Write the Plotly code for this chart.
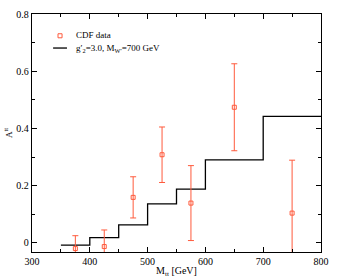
import plotly.graph_objects as go

# CDF data
cdf_x = [375, 425, 475, 525, 575, 650, 750]
cdf_y = [-0.020, -0.013, 0.159, 0.308, 0.139, 0.474, 0.104]
cdf_err = [0.045, 0.058, 0.072, 0.097, 0.131, 0.152, 0.185]

# model step histogram (bin edges and values)
bin_edges = [350, 400, 450, 500, 550, 600, 700, 800]
bin_vals = [-0.008, 0.018, 0.063, 0.136, 0.188, 0.290, 0.442]

x_ticks = [300, 400, 500, 600, 700, 800]
y_ticks = [0, 0.2, 0.4, 0.6, 0.8]
x_minor = [350, 450, 550, 650, 750]
y_minor = [0.1, 0.3, 0.5, 0.7]
x_range = [300, 800]
y_range = [-0.032, 0.8]

red = "#ff5a3c"
font = "Liberation Serif"

fig = go.Figure()
fig.add_trace(go.Scatter(
    x=bin_edges, y=bin_vals + [bin_vals[-1]], mode="lines", line_shape="hv",
    line=dict(color="black", width=1.3), showlegend=False,
))
fig.add_trace(go.Scatter(
    x=cdf_x, y=cdf_y, mode="markers",
    marker=dict(symbol="square-open", size=4, color=red, line=dict(width=1)),
    error_y=dict(type="data", array=cdf_err, color=red, thickness=1, width=3),
    showlegend=False,
))
fig.add_trace(go.Scatter(x=[None], y=[None], xaxis="x2", yaxis="y2", showlegend=False, hoverinfo="skip"))

axis_common = dict(
    showgrid=False, zeroline=False, showline=True, linecolor="black", linewidth=1.3,
    mirror="ticks", ticks="inside", ticklen=5, tickcolor="black", automargin=False,
    tickfont=dict(family=font, size=10, color="black"),
)
fig.update_layout(
    xaxis=dict(range=x_range, autorange=False, tickvals=x_ticks,
               minor=dict(tickvals=x_minor, ticks="inside", ticklen=3, tickcolor="black"),
               title=dict(text="M<sub>tt</sub> [GeV]", font=dict(family=font, size=10), standoff=0),
               **axis_common),
    yaxis=dict(range=y_range, autorange=False, tickvals=y_ticks,
               ticktext=["0", "0.2", "0.4", "0.6", "0.8"],
               minor=dict(tickvals=y_minor, ticks="inside", ticklen=3, tickcolor="black"),
               title=dict(text="A<sup>tt</sup>", font=dict(family=font, size=9), standoff=2),
               **axis_common),
    xaxis2=dict(overlaying="x", side="top", range=x_range, autorange=False, showgrid=False,
                zeroline=False, showline=False, ticks="inside", ticklen=3, tickcolor="black",
                showticklabels=False, tickvals=x_minor),
    yaxis2=dict(overlaying="y", side="right", range=y_range, autorange=False, showgrid=False,
                zeroline=False, showline=False, ticks="inside", ticklen=3, tickcolor="black",
                showticklabels=False, tickvals=y_minor),
)

# manual legend (paper coordinates)
fig.add_shape(type="rect", xref="paper", yref="paper", x0=0.090, x1=0.104, y0=0.900, y1=0.917,
              line=dict(color=red, width=1))
fig.add_shape(type="line", xref="paper", yref="paper", x0=0.073, x1=0.121, y0=0.857, y1=0.857,
              line=dict(color="black", width=1.3))
fig.add_annotation(xref="paper", yref="paper", x=0.145, y=0.912, xanchor="left", yanchor="middle",
                   text="CDF data", showarrow=False, font=dict(family=font, size=9, color="black"))
fig.add_annotation(xref="paper", yref="paper", x=0.145, y=0.857, xanchor="left", yanchor="middle",
                   text="g′<sub>2</sub>=3.0, M<sub>W′</sub>=700 GeV", showarrow=False,
                   font=dict(family=font, size=9, color="black"))

fig.update_layout(
    width=344, height=279, margin=dict(l=32, r=23, t=14, b=27),
    plot_bgcolor="white", paper_bgcolor="white",
    font=dict(family=font, size=10, color="black"),
    showlegend=False,
)

fig.write_html("out.html", config={"displayModeBar": False},
               post_script="document.body.style.margin='0';document.body.style.overflow='hidden';")
